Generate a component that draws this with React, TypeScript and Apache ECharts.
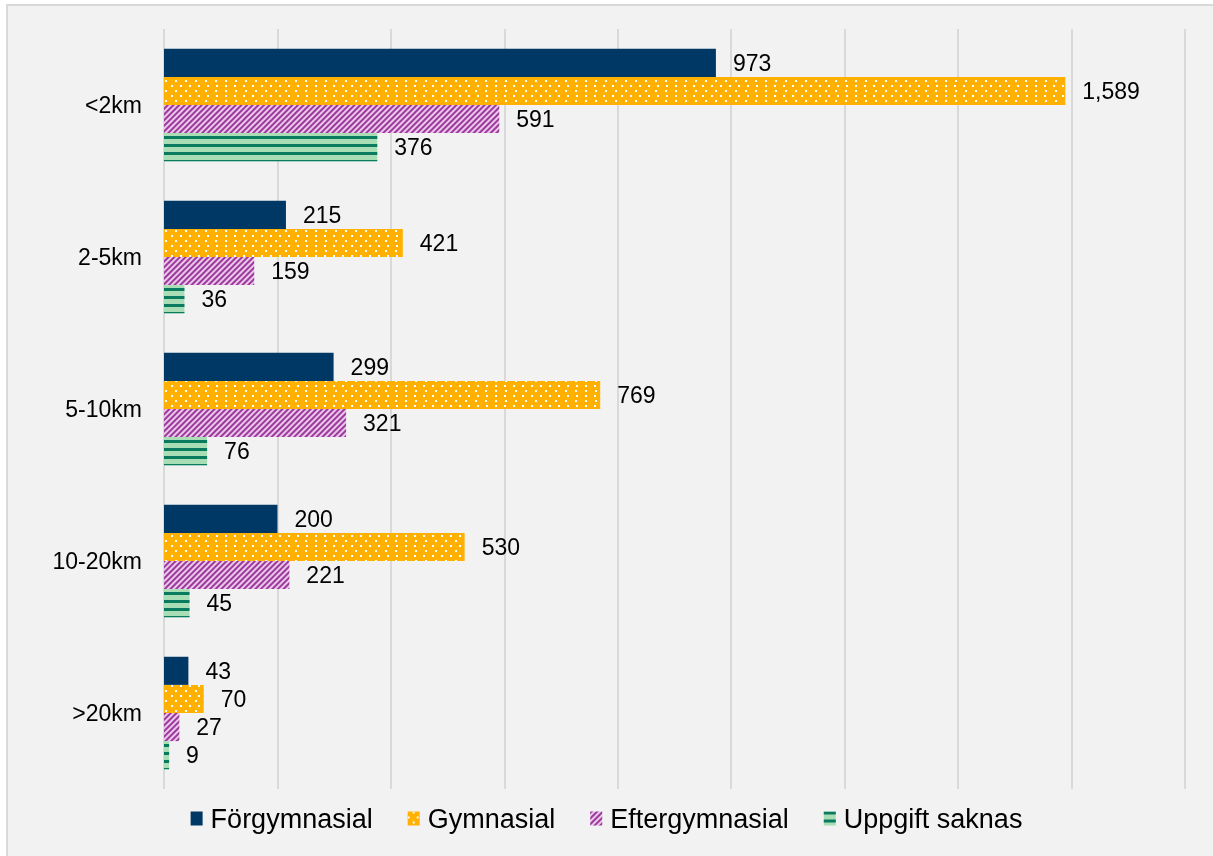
import React, { useEffect, useRef } from "react";
import * as echarts from "echarts";

const categories = ["<2km", "2-5km", "5-10km", "10-20km", ">20km"];
const seriesNames = ["Förgymnasial", "Gymnasial", "Eftergymnasial", "Uppgift saknas"];
const forgymnasial = [973, 215, 299, 200, 43];
const gymnasial = [1589, 421, 769, 530, 70];
const eftergymnasial = [591, 159, 321, 221, 27];
const uppgiftSaknas = [376, 36, 76, 45, 9];
const axisMax = 1800;
const axisInterval = 200;

export default function App() {
  const ref = useRef<HTMLDivElement>(null);
  useEffect(() => {
    if (!ref.current) return;
    const chart = echarts.init(ref.current, null, { renderer: "svg" });
    const fmt = (p: any) => Number(p.value).toLocaleString("en-US");
    const label = {
      show: true,
      position: "right" as const,
      distance: 17,
      color: "#000",
      fontSize: 23,
      fontFamily: "Liberation Sans, Arial, sans-serif",
      formatter: fmt,
    };
    const styles = [
      { color: "#003865" },
      {
        color: "#FFB000",
        decal: {
          symbol: "rect",
          symbolSize: 1,
          color: "#ffffff",
          dashArrayX: [[2, 7], [0, 4.5, 2, 2.5]],
          dashArrayY: [2, 3],
        },
      },
      {
        color: "#EBC7EB",
        decal: {
          symbol: "rect",
          symbolSize: 1,
          color: "#9B3A9B",
          dashArrayX: [1, 0],
          dashArrayY: [2, 2],
          rotation: -Math.PI / 4,
        },
      },
      {
        color: "#A8DDB5",
        decal: {
          symbol: "rect",
          symbolSize: 1,
          color: "#0A7B5E",
          dashArrayX: [1, 0],
          dashArrayY: [3, 5],
        },
      },
    ];
    const datas = [forgymnasial, gymnasial, eftergymnasial, uppgiftSaknas];
    chart.setOption({
      animation: false,
      backgroundColor: "transparent",
      graphic: [
        {
          type: "rect",
          shape: { x: 7, y: 5, width: 1220, height: 870 },
          style: { fill: "#F2F2F2", stroke: "#D9D9D9", lineWidth: 2 },
          z: -10,
        },
      ],
      grid: { left: 164, right: 28, top: 29, bottom: 67, containLabel: false },
      legend: {
        bottom: 19,
        left: "center",
        itemWidth: 12,
        itemHeight: 14,
        itemGap: 35,
        icon: "rect",
        textStyle: {
          fontSize: 27,
          color: "#000",
          fontFamily: "Liberation Sans, Arial, sans-serif",
          padding: [0, 0, 0, 3],
        },
        data: seriesNames,
      },
      xAxis: {
        type: "value",
        min: 0,
        max: axisMax,
        interval: axisInterval,
        axisLabel: { show: false },
        axisLine: { show: false },
        axisTick: { show: false },
        splitLine: { show: true, lineStyle: { color: "#D9D9D9", width: 2 } },
      },
      yAxis: {
        type: "category",
        data: categories,
        inverse: true,
        axisLine: { show: false },
        axisTick: { show: false },
        axisLabel: {
          fontSize: 23,
          color: "#000",
          margin: 22,
          fontFamily: "Liberation Sans, Arial, sans-serif",
        },
      },
      series: datas.map((d, i) => ({
        name: seriesNames[i],
        type: "bar",
        data: d,
        barGap: "0%",
        barCategoryGap: "26%",
        itemStyle: styles[i],
        label,
      })),
    });
    return () => chart.dispose();
  }, []);
  return (
    <div
      ref={ref}
      style={{ position: "fixed", left: 0, top: 0, width: 1213, height: 856 }}
    />
  );
}
